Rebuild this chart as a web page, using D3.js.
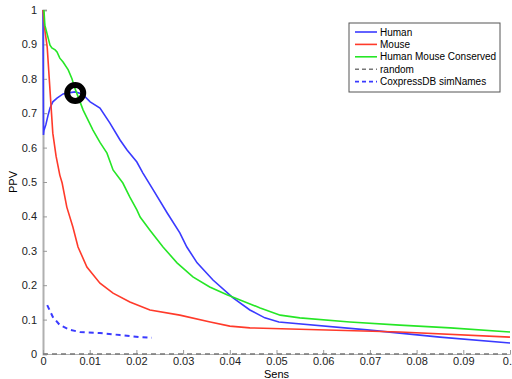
<!DOCTYPE html>
<html>
<head>
<meta charset="utf-8">
<script src="https://cdn.jsdelivr.net/npm/d3@7"></script>
<style>
  body { margin: 0; background: #fff; }
  text { font-family: "Liberation Sans", Arial, sans-serif; }
</style>
</head>
<body>
<script>
// series: [Sens, PPV]
var human = [[0, 1.0], [0.00005, 0.80], [0.0001, 0.637], [0.0002, 0.65], [0.0006, 0.666], [0.0011, 0.695],
  [0.0015, 0.715], [0.0021, 0.733], [0.003, 0.744], [0.0043, 0.756], [0.0054, 0.759], [0.0069, 0.762],
  [0.0084, 0.756], [0.0101, 0.733], [0.0122, 0.715], [0.0143, 0.672], [0.0165, 0.622], [0.018, 0.593],
  [0.0201, 0.558], [0.0214, 0.526], [0.0236, 0.477], [0.0266, 0.410], [0.0293, 0.352], [0.0308, 0.311],
  [0.033, 0.265], [0.0364, 0.215], [0.0407, 0.163], [0.0443, 0.128], [0.0475, 0.105], [0.0505, 0.093],
  [0.0694, 0.070], [0.085, 0.049], [0.1, 0.032]];

var mouse = [[0, 1.0], [0.0004, 0.942], [0.0009, 0.892], [0.0015, 0.767], [0.0021, 0.642], [0.0028, 0.575],
  [0.0036, 0.520], [0.0041, 0.497], [0.0051, 0.427], [0.0064, 0.369], [0.0075, 0.311], [0.0094, 0.253],
  [0.0122, 0.206], [0.015, 0.177], [0.0186, 0.151], [0.0229, 0.128], [0.0293, 0.113], [0.0358, 0.093],
  [0.04, 0.081], [0.0443, 0.076], [0.0764, 0.064], [0.1, 0.049]];

var conserved = [[0.0002, 1.0], [0.0004, 0.956], [0.0015, 0.898], [0.0019, 0.89], [0.0026, 0.884],
  [0.003, 0.878], [0.0036, 0.860], [0.0043, 0.849], [0.0054, 0.826], [0.0062, 0.800], [0.0069, 0.770],
  [0.0086, 0.709], [0.0107, 0.651], [0.0122, 0.615], [0.0137, 0.584], [0.015, 0.535], [0.0171, 0.497],
  [0.0186, 0.456], [0.0201, 0.419], [0.0208, 0.398], [0.0229, 0.360], [0.0257, 0.311], [0.0287, 0.265],
  [0.0321, 0.224], [0.0357, 0.195], [0.0394, 0.172], [0.0422, 0.157], [0.0465, 0.134], [0.0508, 0.113],
  [0.055, 0.105], [0.0657, 0.093], [0.0764, 0.084], [0.0872, 0.076], [0.1, 0.064]];

var random = [[0, 0], [0.1, 0]];

var coxpress = [[0.0009, 0.142], [0.0021, 0.108], [0.0036, 0.084], [0.0058, 0.070], [0.0079, 0.064],
  [0.0122, 0.061], [0.0165, 0.055], [0.0208, 0.049], [0.0233, 0.047]];

var marker = [0.0069, 0.759];

var xTicks = [0, 0.01, 0.02, 0.03, 0.04, 0.05, 0.06, 0.07, 0.08, 0.09, 0.1];
var yTicks = [0, 0.1, 0.2, 0.3, 0.4, 0.5, 0.6, 0.7, 0.8, 0.9, 1];
var legendNames = ["Human", "Mouse", "Human Mouse Conserved", "random", "CoxpressDB simNames"];

var margin = { top: 10, right: 2, bottom: 25, left: 43 },
  width = 512 - margin.left - margin.right,
  height = 379 - margin.top - margin.bottom;

var x = d3.scaleLinear().domain([0, 0.1]).range([0, 467]);
var y = d3.scaleLinear().domain([0, 1]).range([height, 0]);

var svg = d3.select("body").append("svg")
  .attr("width", 512)
  .attr("height", 379)
  .append("g")
  .attr("transform", "translate(" + margin.left + "," + margin.top + ")");

// axes, matlab style: ticks inside, grey axis line
var yAxis = svg.append("g")
  .call(d3.axisLeft(y).tickValues(yTicks).tickSize(-4).tickPadding(6)
    .tickFormat(function (d) { return d3.format("")(+d.toFixed(2)); }));
yAxis.select(".domain").attr("stroke", "#b0b0b0").attr("stroke-width", 2);
yAxis.selectAll(".tick line").attr("stroke", "#999");
yAxis.selectAll(".tick text").attr("font-size", 11).attr("fill", "#222");

var xAxis = svg.append("g")
  .attr("transform", "translate(0," + height + ")")
  .call(d3.axisBottom(x).tickValues(xTicks).tickSize(-4).tickPadding(3)
    .tickFormat(function (d) { return d3.format("")(+d.toFixed(2)); }));
xAxis.select(".domain").attr("stroke", "#b0b0b0").attr("stroke-width", 1);
xAxis.selectAll(".tick line").attr("stroke", "#999");
xAxis.selectAll(".tick text").attr("font-size", 11).attr("fill", "#222");

svg.append("text")
  .attr("transform", "translate(-26," + (height / 2) + ") rotate(-90)")
  .attr("text-anchor", "middle")
  .attr("font-size", 11)
  .text("PPV");

svg.append("text")
  .attr("x", x(0.05))
  .attr("y", height + 24)
  .attr("text-anchor", "middle")
  .attr("font-size", 11)
  .text("Sens");

var line = d3.line()
  .x(function (d) { return x(d[0]); })
  .y(function (d) { return y(d[1]); });

var series = [
  { data: human, color: "#3a3aff", dash: null },
  { data: mouse, color: "#ff3a2a", dash: null },
  { data: conserved, color: "#26e626", dash: null },
  { data: random, color: "#777", dash: "5,4" },
  { data: coxpress, color: "#3a3aff", dash: "5,4" }
];

svg.selectAll("path.series")
  .data(series)
  .enter().append("path")
  .attr("class", "series")
  .attr("d", function (d) { return line(d.data); })
  .attr("fill", "none")
  .attr("stroke", function (d) { return d.color; })
  .attr("stroke-width", function (d) { return d.dash && d.data !== random ? 2 : 1.6; })
  .attr("stroke-dasharray", function (d) { return d.dash; });

// highlighted point
svg.append("circle")
  .attr("cx", x(marker[0]))
  .attr("cy", y(marker[1]))
  .attr("r", 8)
  .attr("fill", "none")
  .attr("stroke", "#000")
  .attr("stroke-width", 6);

// legend
var legend = svg.append("g").attr("transform", "translate(306,13)");
legend.append("rect")
  .attr("width", 151)
  .attr("height", 69)
  .attr("fill", "#fff")
  .attr("stroke", "#555");

var item = legend.selectAll("g.item")
  .data(legendNames)
  .enter().append("g")
  .attr("class", "item")
  .attr("transform", function (d, i) { return "translate(0," + (9 + i * 12.4) + ")"; });

item.append("line")
  .attr("x1", 6).attr("x2", 28)
  .attr("stroke", function (d, i) { return series[i].color; })
  .attr("stroke-width", 1.6)
  .attr("stroke-dasharray", function (d, i) { return series[i].dash ? "4,3" : null; });

item.append("text")
  .attr("x", 31)
  .attr("dy", "0.35em")
  .attr("font-size", 10)
  .text(function (d) { return d; });
</script>
</body>
</html>
